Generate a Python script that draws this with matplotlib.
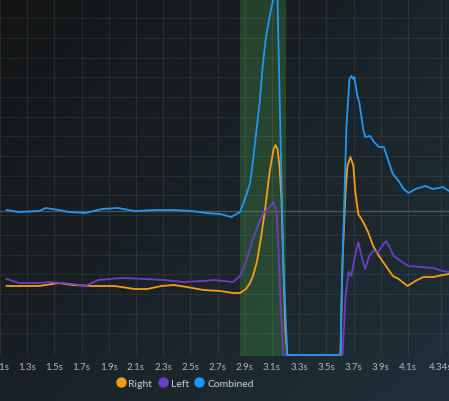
import numpy as np
import matplotlib
matplotlib.use("Agg")
import matplotlib.pyplot as plt
from matplotlib.lines import Line2D

# combined (blue)
t_combined = [1.148, 1.235, 1.387, 1.438, 1.532, 1.605, 1.728, 1.851, 1.967, 2.090,
              2.257, 2.380, 2.503, 2.619, 2.720, 2.800, 2.865, 2.909, 2.938, 2.960,
              2.981, 3.010, 3.032, 3.054, 3.083, 3.105, 3.119, 3.141, 3.162, 3.184,
              3.213, 3.604, 3.612, 3.634, 3.648, 3.670, 3.684, 3.699, 3.706, 3.728,
              3.742, 3.771, 3.786, 3.822, 3.851, 3.887, 3.923, 3.952, 3.989, 4.032,
              4.068, 4.104, 4.155, 4.228, 4.286, 4.358, 4.402]
v_combined = [146, 144, 145, 148, 146, 144, 143, 147, 148, 145,
              146, 146, 145, 143, 142, 139, 144, 160, 172, 194,
              220, 254, 290, 317, 340, 354, 361, 357, 224, 90,
              1, 1, 57, 164, 230, 277, 280, 277, 279, 260,
              254, 227, 219, 220, 214, 209, 209, 197, 182, 175,
              167, 163, 167, 170, 167, 169, 165]

# right (orange)
t_right = [1.148, 1.271, 1.387, 1.532, 1.634, 1.778, 1.945, 2.090, 2.184, 2.286,
           2.380, 2.474, 2.597, 2.720, 2.815, 2.865, 2.909, 2.938, 2.960, 2.989,
           3.018, 3.047, 3.083, 3.112, 3.126, 3.141, 3.155, 3.170, 3.184, 3.199,
           3.213, 3.604, 3.619, 3.641, 3.655, 3.677, 3.699, 3.713, 3.735, 3.771,
           3.807, 3.844, 3.887, 3.938, 3.989, 4.032, 4.097, 4.155, 4.213, 4.286,
           4.358, 4.402]
v_right = [70, 70, 70, 73, 71, 70, 70, 67, 67, 70,
           71, 69, 66, 65, 63, 63, 67, 73, 80, 94,
           117, 144, 184, 207, 211, 207, 190, 157, 90, 24,
           1, 1, 97, 164, 190, 199, 190, 164, 142, 134,
           124, 110, 100, 90, 80, 77, 70, 75, 79, 79,
           81, 82]

# left (purple)
t_left = [1.148, 1.242, 1.387, 1.460, 1.634, 1.728, 1.822, 1.996, 2.162, 2.307,
          2.452, 2.597, 2.670, 2.815, 2.865, 2.909, 2.960, 2.996, 3.032, 3.083,
          3.112, 3.134, 3.148, 3.162, 3.184, 3.619, 3.641, 3.663, 3.684, 3.706,
          3.735, 3.764, 3.786, 3.815, 3.844, 3.880, 3.909, 3.938, 3.960, 3.996,
          4.046, 4.104, 4.191, 4.286, 4.358, 4.402]
v_left = [77, 73, 73, 74, 72, 70, 76, 78, 77, 76,
          74, 75, 76, 74, 80, 94, 117, 130, 142, 149,
          154, 144, 107, 57, 1, 1, 59, 84, 80, 97,
          114, 97, 87, 100, 105, 104, 110, 115, 110, 100,
          95, 90, 89, 88, 85, 84]

tick_pos = [1.1, 1.3, 1.5, 1.7, 1.9, 2.1, 2.3, 2.5, 2.7, 2.9, 3.1, 3.3, 3.5, 3.7, 3.9, 4.1, 4.34]
tick_labels = ["1.1s", "1.3s", "1.5s", "1.7s", "1.9s", "2.1s", "2.3s", "2.5s", "2.7s",
               "2.9s", "3.1s", "3.3s", "3.5s", "3.7s", "3.9s", "4.1s", "4.34s"]
band = (2.865, 3.206)
ref_level = 145

c_right = "#f89c14"
c_left = "#6a3fc2"
c_comb = "#2196f3"

fig = plt.figure(figsize=(4.49, 4.02), dpi=100)

# background gradient
bg = fig.add_axes([0, 0, 1, 1], zorder=-10)
gx, gy = np.meshgrid(np.linspace(0, 1, 200), np.linspace(0, 1, 200))
w = np.clip(0.6 * gx + 0.5 * gy, 0, 1)
c0 = np.array([0x13, 0x14, 0x15]) / 255
c1 = np.array([0x1f, 0x2e, 0x36]) / 255
img = c0[None, None, :] * (1 - w[..., None]) + c1[None, None, :] * w[..., None]
bg.imshow(img, extent=[0, 1, 0, 1], origin="upper", aspect="auto")
bg.axis("off")

ax = fig.add_axes([0, 45 / 402, 1, 357 / 402])
ax.set_facecolor("none")
ax.set_xlim(1.148, 4.402)
ax.set_ylim(0, 357)

ax.set_yticks(np.arange(22.7, 357, 19.7))
ax.set_xticks(tick_pos)
ax.set_xticklabels(tick_labels)
ax.tick_params(axis="x", length=0, pad=4.5, labelsize=7, labelcolor="#b4b8bc")
ax.tick_params(axis="y", length=0, labelleft=False)
for lab in ax.get_xticklabels():
    lab.set_fontfamily(["Lato", "DejaVu Sans"])
    lab.set_clip_on(False)
ax.grid(True, color="white", alpha=0.07, lw=0.8)
for s in ax.spines.values():
    s.set_visible(False)

ax.axvspan(band[0], band[1], color="#4a9a48", alpha=0.3, lw=0, zorder=1)
ax.axhline(ref_level, color="#8a9090", alpha=0.45, lw=1, zorder=1)

ax.plot(t_right, v_right, color=c_right, lw=1.3, zorder=3)
ax.plot(t_left, v_left, color=c_left, lw=1.3, zorder=4)
ax.plot(t_combined, v_combined, color=c_comb, lw=1.3, zorder=5)

handles = [Line2D([], [], ls="none", marker="o", ms=6.5, color=c) for c in (c_right, c_left, c_comb)]
leg = fig.legend(handles, ["Right", "Left", "Combined"], loc="center",
                 bbox_to_anchor=(184.5 / 449, 18 / 402), ncol=3, frameon=False,
                 handletextpad=0.25, columnspacing=0.5, handlelength=1.0,
                 prop={"family": ["Lato", "DejaVu Sans"], "size": 7.5})
for txt in leg.get_texts():
    txt.set_color("#cdd1d4")

fig.savefig("out.png", dpi=100)
